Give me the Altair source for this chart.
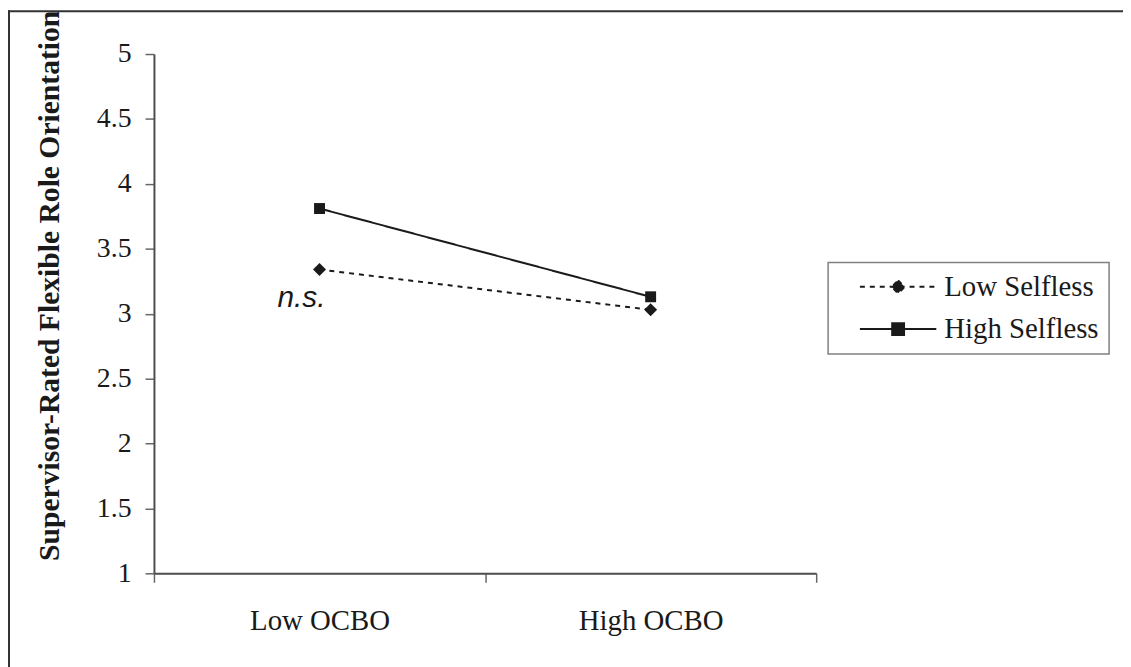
import altair as alt
import pandas as pd

# ---- data ----
levels = ["Low OCBO", "High OCBO"]
series = ["Low Selfless", "High Selfless"]
low_selfless = [3.34, 3.03]
high_selfless = [3.81, 3.13]
y_ticks = [1, 1.5, 2, 2.5, 3, 3.5, 4, 4.5, 5]
note_text = ["n.s."]
note_level = ["Low OCBO"]
note_value = [3.05]

rows = []
for s, vals in zip(series, [low_selfless, high_selfless]):
    for lv, v in zip(levels, vals):
        rows.append({"Level": lv, "Series": s, "Value": v})
df = pd.DataFrame(rows)
note_df = pd.DataFrame({"Level": note_level, "Value": note_value, "Text": note_text})
one = pd.DataFrame({"k": [0]})

FONT = "Liberation Serif"
INK = "#1a1a1a"

x_enc = alt.X(
    "Level:N",
    scale=alt.Scale(type="band", domain=levels, paddingInner=0, paddingOuter=0),
    axis=alt.Axis(
        title=None, labelAngle=0, tickBand="extent", labelFont=FONT,
        labelFontSize=29, labelColor=INK, labelPadding=48,
        labelBaseline="alphabetic", tickSize=9,
    ),
)
y_enc = alt.Y(
    "Value:Q",
    scale=alt.Scale(domain=[1, 5], nice=False, zero=False),
    axis=alt.Axis(
        values=y_ticks, format="~g", labelFont=FONT, labelFontSize=28,
        labelColor=INK, labelPadding=14, tickSize=9,
        title="Supervisor-Rated Flexible Role Orientation",
        titleFont=FONT, titleFontSize=29.8, titleFontWeight="bold",
        titleColor=INK, titleAngle=270, titleAlign="left",
        titleBaseline="alphabetic", titleX=-96, titleY=510,
    ),
)

# legend glyphs: a short line with the marker in its middle
legend_low = "M-5.92,0L5.92,0M0,-1L1,0L0,1L-1,0Z"
legend_high = "M-5.92,0L5.92,0M-0.92,-0.92L0.92,-0.92L0.92,0.92L-0.92,0.92Z"
sym_expr = f"datum.value === 'Low Selfless' ? '{legend_low}' : '{legend_high}'"

lines = alt.Chart(df).mark_line(color=INK, strokeWidth=2).encode(
    x=x_enc,
    y=y_enc,
    strokeDash=alt.StrokeDash(
        "Series:N",
        scale=alt.Scale(domain=series, range=[[5, 5], [1, 0]]),
        legend=alt.Legend(
            title=None, orient="none", legendX=679, legendY=210,
            padding=10, strokeColor="#808080",
            symbolType={"expr": sym_expr}, symbolSize=169,
            symbolStrokeWidth=2, symbolFillColor=INK, symbolStrokeColor=INK,
            symbolOffset=46, labelOffset=32, rowPadding=12.5,
            labelFont=FONT, labelFontSize=29, labelColor=INK,
            labelExpr="datum.label + '\u00a0\u00a0'",
        ),
    ),
)

points_low = alt.Chart(df).transform_filter(
    alt.datum.Series == series[0]
).mark_point(filled=True, opacity=1, color=INK, shape="diamond", size=170).encode(
    x=x_enc, y=y_enc
)
points_high = alt.Chart(df).transform_filter(
    alt.datum.Series == series[1]
).mark_point(filled=True, opacity=1, color=INK, shape="square", size=121).encode(
    x=x_enc, y=y_enc
)

note = alt.Chart(note_df).mark_text(
    font="Liberation Sans", fontStyle="italic", fontSize=30, align="right",
    baseline="alphabetic", dx=6, color=INK,
).encode(x=x_enc, y=y_enc, text="Text:N")

border_top = alt.Chart(one).mark_rule(color="#333333", strokeWidth=2).encode(
    x=alt.value(-147), x2=alt.value(980), y=alt.value(-43)
)
border_left = alt.Chart(one).mark_rule(color="#333333", strokeWidth=2).encode(
    x=alt.value(-146), y=alt.value(-44), y2=alt.value(620)
)

chart = alt.layer(border_top, border_left, lines, points_low, points_high, note).properties(
    width=667, height=523,
    autosize=alt.AutoSizeParams(type="none"),
    padding={"left": 147, "top": 44, "right": 309, "bottom": 92},
).configure_view(stroke=None).configure_axis(
    grid=False, domainColor="#4d4d4d", domainWidth=2,
    tickColor="#666666", tickWidth=1.5,
).configure_legend(strokeWidth=1.5)

chart.save("out.html", embed_options={"renderer": "svg", "actions": False})
